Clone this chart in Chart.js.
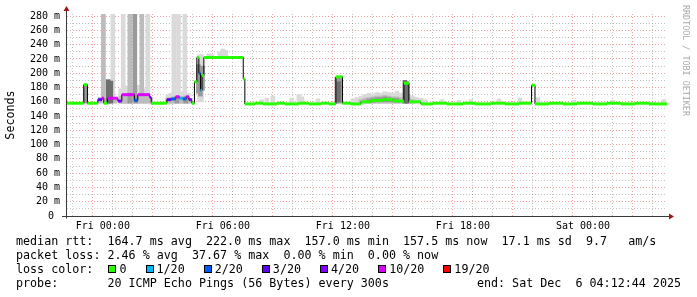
<!DOCTYPE html>
<html>
<head>
<meta charset="utf-8">
<script src="https://cdn.jsdelivr.net/npm/chart.js@4.4.1/dist/chart.umd.min.js"></script>
<style>
  html, body { margin: 0; padding: 0; background: #fff; }
  #wrap { position: relative; width: 697px; height: 297px; background: #fff; overflow: hidden; }
  #chart { position: absolute; left: 0; top: 0; }
  #legend { position: absolute; left: 16px; top: 234px; width: 665px;
            font-family: 'DejaVu Sans Mono', monospace; font-size: 11.7px; line-height: 14px;
            color: #000; }
  .row { position: relative; height: 14px; white-space: pre; }
  .end { position: absolute; right: 0; top: 0; }
  .sw { display: inline-block; box-sizing: border-box; width: 8px; height: 8px;
        border: 1px solid #000; margin: 0 3px 0 1px; }
  .lbl { margin-right: 18px; }
  #mark { position: absolute; left: 682px; top: 5px; writing-mode: vertical-rl;
          font-family: 'DejaVu Sans Mono', monospace; font-size: 8.4px; line-height: 8px; color: #aaa; }
</style>
</head>
<body>
<div id="wrap">
  <canvas id="chart" width="697" height="297"></canvas>
  <div id="mark">RRDTOOL / TOBI OETIKER</div>
  <div id="legend"><div class="row">median rtt:  164.7 ms avg  222.0 ms max  157.0 ms min  157.5 ms now  17.1 ms sd  9.7   am/s</div><div class="row">packet loss: 2.46 % avg  37.67 % max  0.00 % min  0.00 % now</div><div class="row" id="loss-row">loss color:  </div><div class="row">probe:       20 ICMP Echo Pings (56 Bytes) every 300s<span class="end">end: Sat Dec  6 04:12:44 2025</span></div></div>
</div>
<script>
// x values are hours relative to Fri 00:00
const startHour = -1.79;
const endHour = 28.2;
const tickHours = [0, 6, 12, 18, 24];
const tickLabels = ['Fri 00:00', 'Fri 06:00', 'Fri 12:00', 'Fri 18:00', 'Sat 00:00'];

// loss colour legend
const lossSteps = [0, 1, 2, 3, 4, 10, 19];
const lossLabels = ['0', '1/20', '2/20', '3/20', '4/20', '10/20', '19/20'];
const lossColors = ['#26ff00', '#00b8ff', '#0059ff', '#5e00ff', '#7e00ff', '#dd00ff', '#ff0000'];

// median rtt (ms), one entry per run of equal value
const medStart = [-1.79, -0.95, -0.77, -0.25, -0.05, 0.05, 0.23, 0.75, 0.95, 1.58,
                  1.75, 2.35, 2.42, 3.2, 3.42, 3.65, 3.83, 4.0, 4.17, 4.3,
                  4.45, 4.58, 4.7, 4.8, 4.88, 4.96, 5.05, 7.02, 7.1, 7.6,
                  8.0, 8.7, 9.1, 9.8, 10.3, 10.9, 11.3, 11.65, 11.98, 12.4,
                  12.9, 13.4, 14.0, 14.5, 15.05, 15.3, 15.9, 16.5, 17.2, 18.0,
                  18.6, 19.4, 20.1, 20.8, 21.43, 21.6, 22.3, 23.0, 23.7, 24.5,
                  25.2, 25.9, 26.6, 27.3];
const medValue = [158, 184, 158, 163, 165, 158, 165, 161, 170, 162,
                  170, 166, 158, 163, 164, 167, 165, 164, 167, 163,
                  158, 188, 222, 200, 176, 197, 222, 192, 157, 158,
                  157, 158, 157, 158, 157, 158, 157, 195, 158, 157,
                  160, 162, 163, 161, 186, 160, 157, 158, 157, 158,
                  157, 158, 157, 158, 183, 157, 158, 157, 158, 157,
                  158, 157, 158, 157];
// lost pings (of 20) for each run
const medLoss = [0, 0, 0, 3, 10, 0, 10, 4, 10, 2,
                 10, 4, 0, 3, 2, 10, 1, 2, 10, 4,
                 0, 0, 0, 2, 1, 0, 0, 0, 0, 0,
                 0, 0, 0, 0, 0, 0, 0, 0, 0, 0,
                 0, 0, 0, 0, 0, 0, 0, 0, 0, 0,
                 0, 0, 0, 0, 0, 0, 0, 0, 0, 0,
                 0, 0, 0, 0];

// smoke (spread of single pings): hour, low ms, high ms, shade 0..3
const smokeHour = [
  -0.87,
  -0.12, 0.03, 0.15, 0.27, 0.4, 0.5, 0.6,
  1.02, 1.35, 1.6, 1.95, 2.25,
  0.9, 1.05, 1.2, 1.5, 1.8, 2.1,
  0.9, 1.05, 1.2, 1.35, 1.5, 1.65, 1.8, 1.95, 2.1, 2.25, 2.4,
  3.25, 3.4, 3.55, 3.78, 4.0, 4.1, 4.25,
  3.25, 3.4, 3.55, 3.7, 3.85, 4.0, 4.15, 4.3,
  4.83, 4.93, 4.78, 4.88, 4.98,
  5.3, 5.45, 5.85, 6.0, 6.15,
  7.95, 8.2, 8.5, 9.45, 9.8, 9.95, 10.75,
  11.7, 11.85, 11.78,
  12.5, 12.7, 12.9, 13.1, 13.3, 13.5, 13.7, 13.9, 14.1, 14.3, 14.5, 14.7, 14.9, 15.3, 15.5, 15.7, 15.9, 16.1,
  12.9, 13.1, 13.3, 13.5, 13.7, 13.9, 14.1, 14.3, 14.5, 14.7, 14.9, 15.3, 15.5,
  13.3, 13.5, 13.7, 13.9, 14.1, 14.3, 14.5, 14.7,
  15.1, 15.2,
  16.95, 17.8, 18.4, 19.8, 20.85, 21.75, 23.55, 25.5, 28.05
];
const smokeLow = [
  158,
  158, 160, 158, 158, 158, 160, 158,
  160, 160, 160, 160, 160,
  158, 158, 158, 158, 158, 158,
  158, 158, 158, 158, 158, 158, 158, 158, 158, 158, 158,
  158, 158, 160, 160, 158, 160, 158,
  158, 158, 158, 158, 158, 158, 158, 158,
  160, 160, 172, 168, 176,
  222, 222, 222, 222, 222,
  158, 158, 158, 158, 158, 158, 158,
  158, 158, 160,
  158, 158, 158, 158, 158, 158, 158, 158, 158, 158, 158, 158, 158, 158, 158, 158, 158, 158,
  158, 158, 158, 158, 158, 158, 158, 158, 158, 158, 158, 158, 158,
  160, 159, 160, 160, 160, 160, 160, 159,
  158, 158,
  158, 158, 158, 158, 158, 158, 158, 158, 158
];
const smokeHigh = [
  184,
  166, 290, 166, 191, 189, 290, 166,
  290, 290, 290, 290, 290,
  178, 183, 182, 178, 183, 178,
  168, 170, 170, 172, 170, 168, 170, 170, 170, 168, 166,
  170, 172, 290, 290, 174, 290, 172,
  165, 166, 167, 168, 167, 166, 168, 165,
  226, 226, 212, 205, 210,
  227, 226, 230, 234, 232,
  163, 165, 168, 165, 170, 167, 164,
  194, 194, 188,
  164, 166, 168, 170, 172, 171, 173, 172, 174, 173, 172, 175, 172, 170, 168, 166, 165, 163,
  163, 165, 166, 167, 168, 168, 169, 168, 167, 167, 166, 165, 163,
  164, 165, 166, 166, 167, 166, 165, 165,
  190, 188,
  163, 162, 163, 164, 165, 166, 162, 162, 163
];
const smokeShade = [
  2,
  1, 1, 1, 3, 3, 0, 1,
  0, 1, 2, 1, 0,
  0, 0, 0, 0, 0, 0,
  1, 1, 1, 2, 1, 2, 1, 1, 1, 1, 1,
  0, 0, 0, 0, 0, 0, 0,
  1, 1, 1, 2, 1, 1, 2, 1,
  0, 0, 2, 2, 2,
  0, 0, 0, 0, 0,
  0, 0, 0, 0, 0, 0, 0,
  2, 2, 3,
  0, 0, 0, 0, 0, 0, 0, 0, 0, 0, 0, 0, 0, 0, 0, 0, 0, 0,
  1, 1, 1, 1, 1, 1, 1, 1, 1, 1, 1, 1, 1,
  2, 2, 2, 2, 2, 2, 2, 2,
  3, 3,
  0, 0, 0, 0, 0, 0, 0, 0, 0
];
const shadeColors = ['#dadada', '#bcbcbc', '#9a9a9a', '#6e6e6e'];

const MONO = "'DejaVu Sans Mono', monospace";
const MAJOR_GRID = 'rgba(230,80,80,0.55)';
const MINOR_GRID = 'rgba(140,140,140,0.5)';

function colorForLoss(loss) {
  let c = lossColors[0];
  lossSteps.forEach((s, i) => { if (loss >= s) c = lossColors[i]; });
  return c;
}

function near(a, b) { return Math.abs(a - b) < 1e-6; }

// legend swatches
const lossRow = document.getElementById('loss-row');
lossLabels.forEach((lbl, i) => {
  const sw = document.createElement('span');
  sw.className = 'sw';
  sw.style.background = lossColors[i];
  const t = document.createElement('span');
  t.className = 'lbl';
  t.textContent = lbl;
  lossRow.appendChild(sw);
  lossRow.appendChild(t);
});

// black median step line
const medianLine = medStart.map((h, i) => ({ x: h, y: medValue[i] }));
medianLine.push({ x: endHour, y: medValue[medValue.length - 1] });

// coloured loss bars along the median, 3 points per run (start, end, gap)
const lossLine = [];
medStart.forEach((h, i) => {
  const e = i + 1 < medStart.length ? medStart[i + 1] : endHour;
  lossLine.push({ x: h, y: medValue[i] }, { x: e, y: medValue[i] }, { x: e, y: null });
});

const smokeSets = shadeColors.map((col, s) => ({
  type: 'bar',
  data: smokeHour.map((h, i) => ({ x: h, y: [smokeLow[i], smokeHigh[i]], s: smokeShade[i] }))
                 .filter(p => p.s === s),
  backgroundColor: col,
  borderWidth: 0,
  grouped: false,
  barThickness: 4,
  order: 10 - s
}));

const axisArrows = {
  id: 'axisArrows',
  afterDraw(chart) {
    const { ctx, chartArea: a } = chart;
    const x0 = a.left - 0.5;
    const y0 = a.bottom + 0.5;
    ctx.save();
    ctx.strokeStyle = '#3a3a3a';
    ctx.lineWidth = 1;
    ctx.beginPath();
    ctx.moveTo(x0, a.top - 4);
    ctx.lineTo(x0, y0 + 2);
    ctx.moveTo(a.left - 5, y0);
    ctx.lineTo(a.right + 3, y0);
    ctx.stroke();
    ctx.fillStyle = '#a01818';
    ctx.beginPath();
    ctx.moveTo(x0 - 3, a.top - 3);
    ctx.lineTo(x0 + 3, a.top - 3);
    ctx.lineTo(x0, a.top - 8);
    ctx.closePath();
    ctx.fill();
    ctx.beginPath();
    ctx.moveTo(a.right + 2, y0 - 3);
    ctx.lineTo(a.right + 2, y0 + 3);
    ctx.lineTo(a.right + 7, y0);
    ctx.closePath();
    ctx.fill();
    ctx.restore();
  }
};

new Chart(document.getElementById('chart').getContext('2d'), {
  type: 'line',
  data: {
    datasets: [
      ...smokeSets,
      {
        type: 'line',
        data: medianLine,
        stepped: true,
        borderColor: '#000',
        borderWidth: 1,
        pointRadius: 0,
        fill: false,
        order: 2
      },
      {
        type: 'line',
        data: lossLine,
        borderWidth: 3,
        borderCapStyle: 'butt',
        pointRadius: 0,
        fill: false,
        spanGaps: false,
        segment: { borderColor: c => colorForLoss(medLoss[Math.floor(c.p0DataIndex / 3)]) },
        order: 1
      }
    ]
  },
  options: {
    responsive: false,
    animation: false,
    devicePixelRatio: 1,
    layout: { padding: { left: 0, right: 30, top: 14, bottom: 0 } },
    plugins: { legend: { display: false }, tooltip: { enabled: false } },
    scales: {
      x: {
        type: 'linear',
        min: startHour,
        max: endHour,
        offset: false,
        afterFit: s => { s.height = 81; },
        ticks: {
          stepSize: 1,
          autoSkip: false,
          maxRotation: 0,
          includeBounds: false,
          padding: 4,
          color: '#000',
          font: { family: MONO, size: 10 },
          callback: v => {
            const k = tickHours.findIndex(t => near(t, v));
            return k >= 0 ? tickLabels[k] : '';
          }
        },
        grid: {
          drawTicks: false,
          color: c => (c.tick && near(Math.round(c.tick.value / 3) * 3, c.tick.value)) ? MAJOR_GRID : MINOR_GRID
        },
        border: { display: false, dash: [1, 2] }
      },
      y: {
        min: 0,
        max: 283,
        afterFit: s => { s.width = 67; },
        title: {
          display: true,
          text: 'Seconds',
          color: '#000',
          font: { family: MONO, size: 11.7 },
          padding: { top: 4, bottom: 0 }
        },
        ticks: {
          stepSize: 10,
          autoSkip: false,
          includeBounds: false,
          padding: 7,
          color: '#000',
          font: { family: MONO, size: 10 },
          callback: v => v % 20 !== 0 ? '' : (v === 0 ? '0 ' : v + ' m')
        },
        grid: {
          drawTicks: false,
          color: c => (c.tick && c.tick.value % 20 === 0) ? MAJOR_GRID : MINOR_GRID
        },
        border: { display: false, dash: [1, 2] }
      }
    }
  },
  plugins: [axisArrows]
});
</script>
</body>
</html>
